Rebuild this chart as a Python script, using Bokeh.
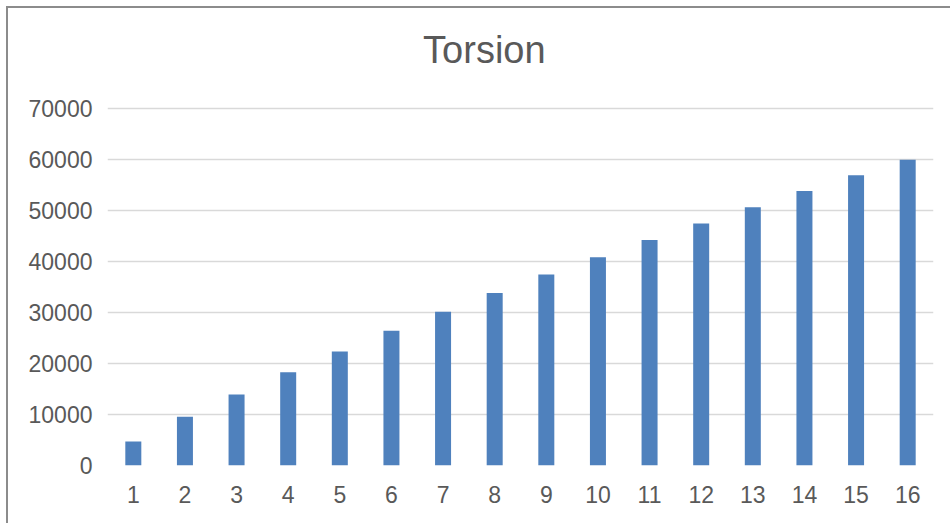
from bokeh.plotting import figure
from bokeh.models import Range1d, FixedTicker
from bokeh.core.properties import value
from bokeh.embed import file_html
from bokeh.resources import INLINE

# Torsion per step
steps = list(range(1, 17))
torsion = [4700, 9550, 13900, 18300, 22350, 26400, 30150, 33800,
           37450, 40850, 44200, 47450, 50650, 53800, 56900, 59950]
y_ticks = [0, 10000, 20000, 30000, 40000, 50000, 60000, 70000]
title_text = ["Torsion"]

FONT = "Liberation Sans"
TEXT = "#595959"
GRID = "#d9d9d9"
BAR = "#4f81bd"

# the value range reaches above the top gridline so the title sits inside the frame
Y_TOP = 70000 * 457 / 357

p = figure(
    width=944, height=517,
    x_range=Range1d(0.5, 16.5), y_range=Range1d(0, Y_TOP),
    output_backend="svg", toolbar_location=None,
    min_border_left=99, min_border_right=19,
    min_border_top=0, min_border_bottom=60,
    background_fill_color="white", border_fill_color="white",
    outline_line_color=None,
)
p.styles = {
    "margin-left": "6px", "margin-top": "6px",
    "border-left": "2px solid #8c8c8c", "border-top": "2px solid #8c8c8c",
}

p.vbar(x=steps, top=torsion, width=0.31, color=BAR, line_color=None)

# axes
p.xaxis.ticker = FixedTicker(ticks=steps)
p.yaxis.ticker = FixedTicker(ticks=y_ticks)
for ax in (p.xaxis[0], p.yaxis[0]):
    ax.axis_line_color = None
    ax.major_tick_line_color = None
    ax.minor_tick_line_color = None
    ax.major_tick_out = 0
    ax.major_tick_in = 0
    ax.major_label_text_font = FONT
    ax.major_label_text_font_size = "23px"
    ax.major_label_text_color = TEXT
p.xaxis.major_label_standoff = 20
p.yaxis.major_label_standoff = 15

p.xgrid.grid_line_color = None
p.ygrid.ticker = FixedTicker(ticks=y_ticks)
p.ygrid.grid_line_color = GRID
p.ygrid.grid_line_width = 1.5

# chart title
p.text(
    x=[7.8], y=[70000 * 415.5 / 357], text=title_text,
    text_font=value(FONT), text_font_size="38px", text_color=TEXT,
    text_align="center", text_baseline="middle",
)

open("out.html", "w").write(file_html(p, INLINE))
